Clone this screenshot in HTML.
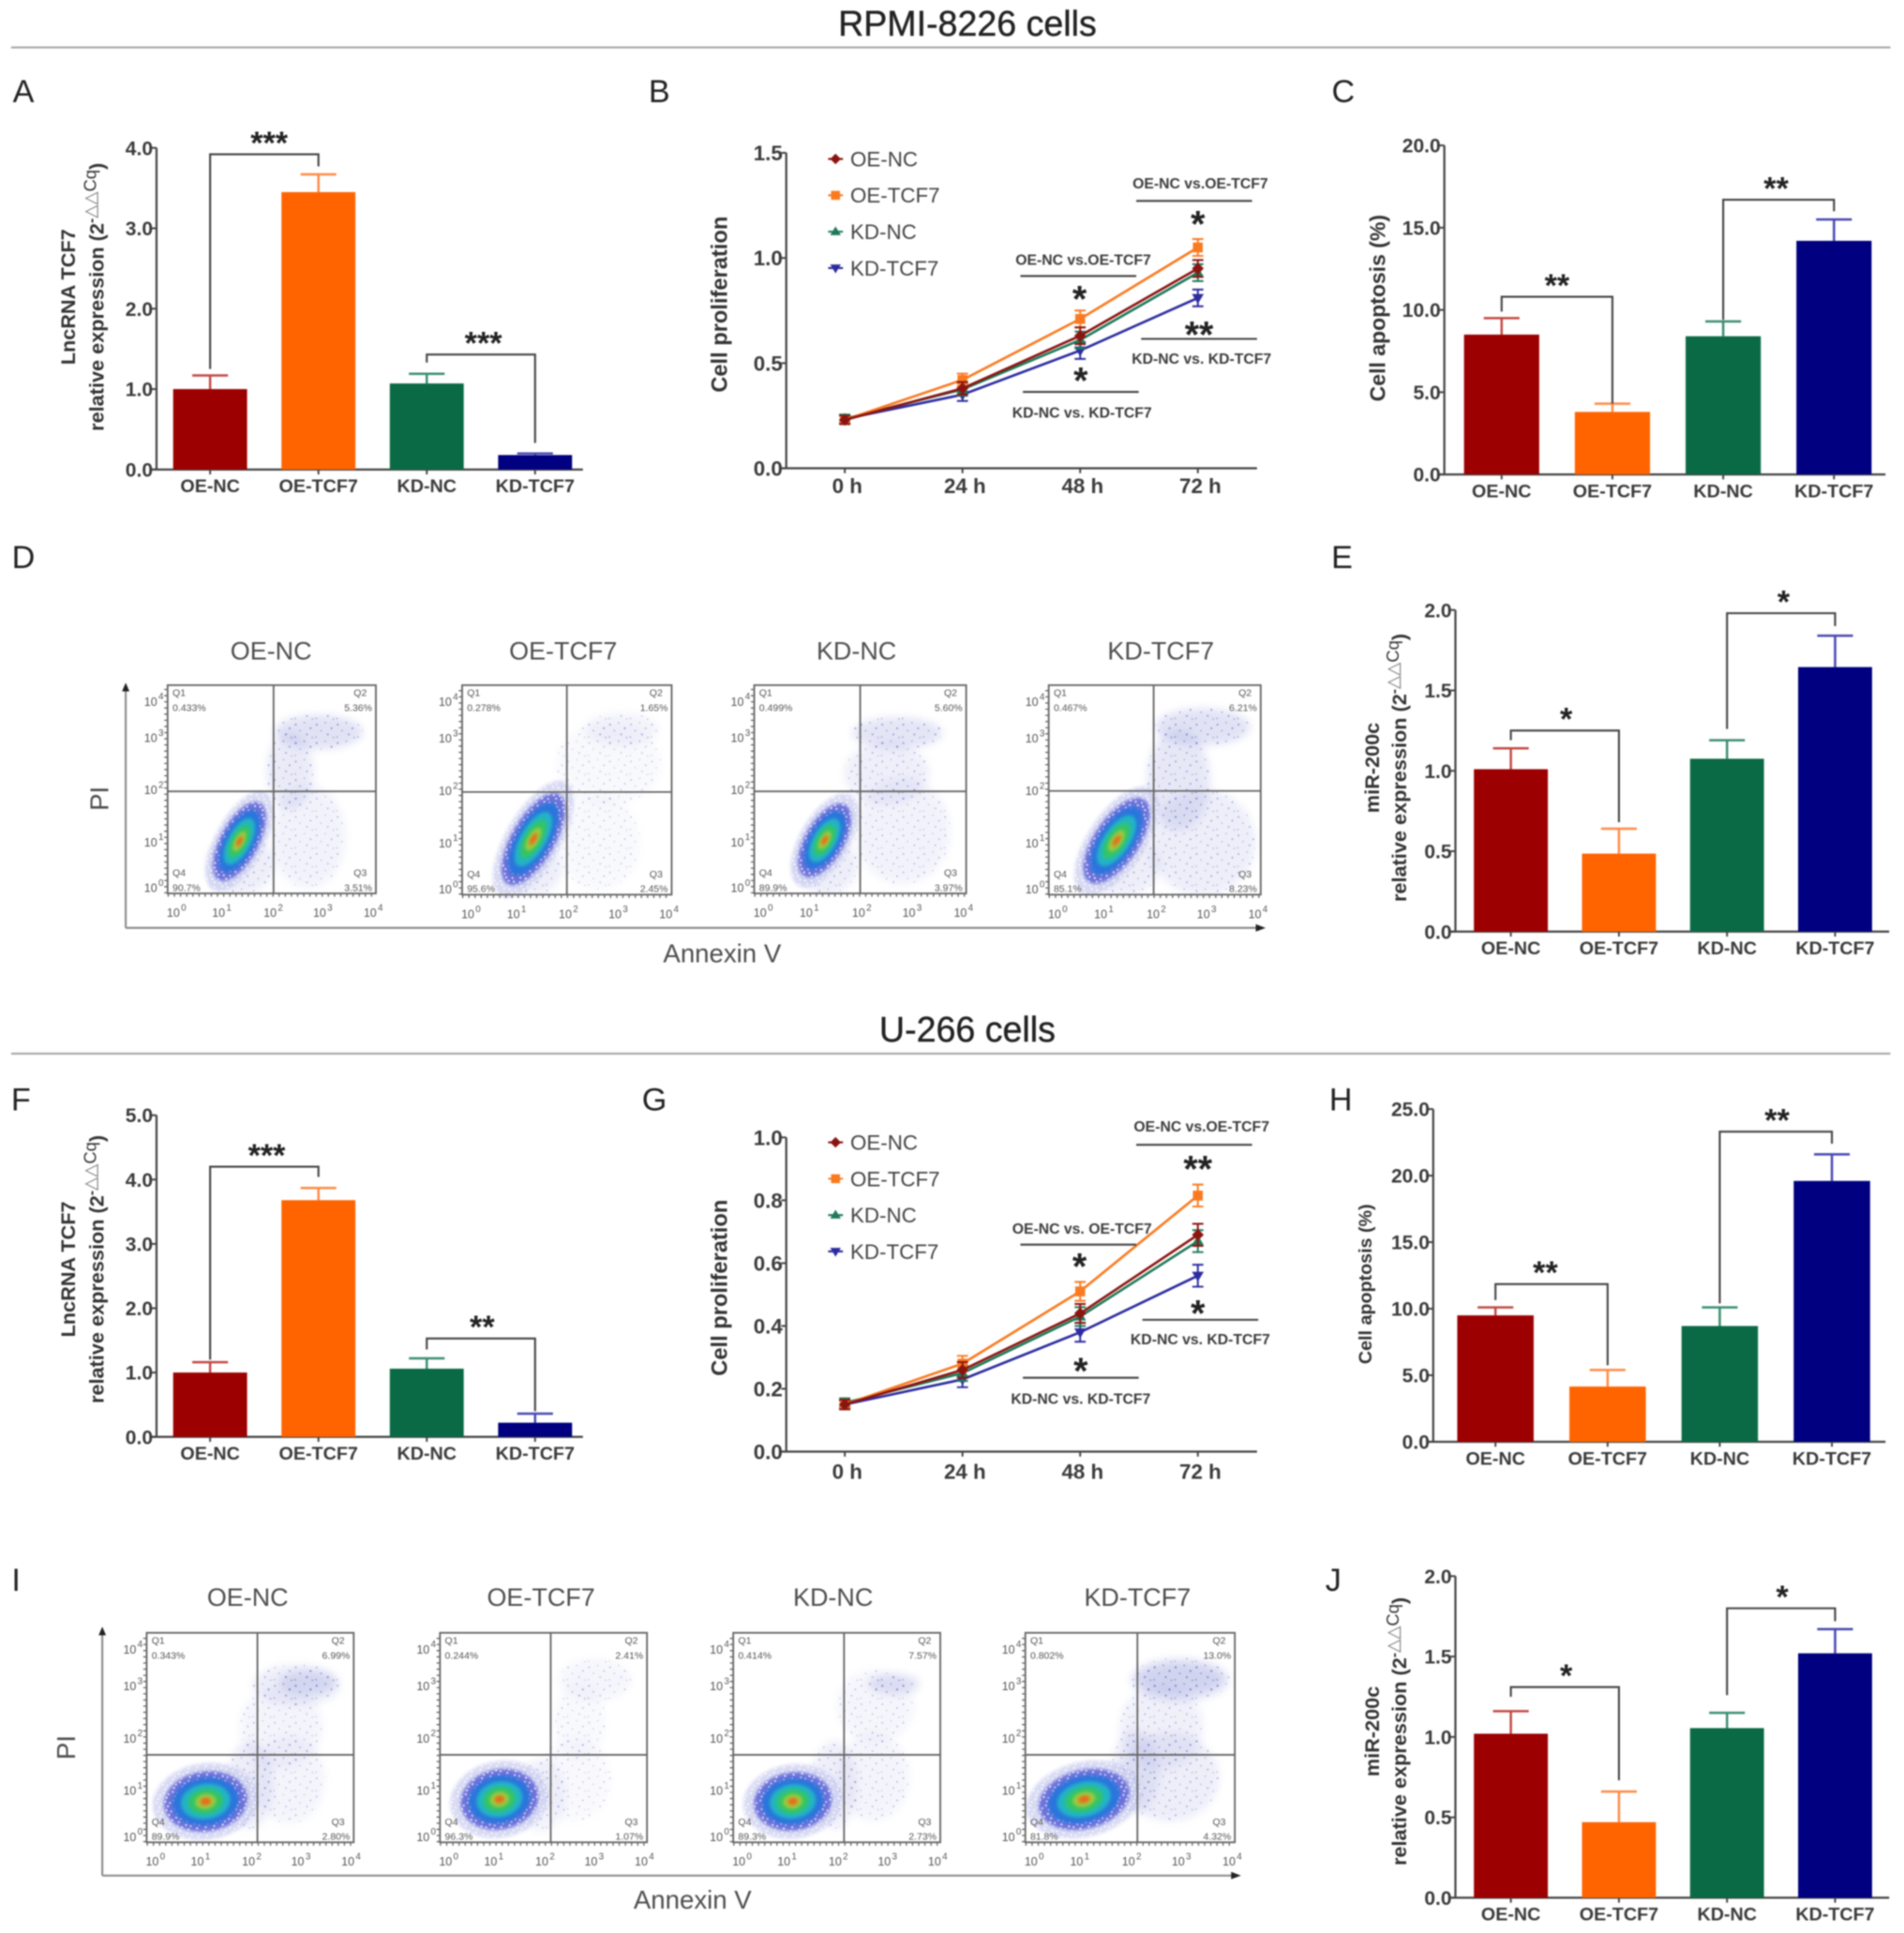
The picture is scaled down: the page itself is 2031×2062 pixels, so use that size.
<!DOCTYPE html>
<html lang="en">
<head>
<meta charset="utf-8">
<title>lncRNA TCF7 and miR-200c in RPMI-8226 and U-266 cells</title>
<style>
html,body{margin:0;padding:0;background:#fff;}
#figure{display:block;width:2031px;height:2062px;filter:blur(0.8px);font-family:"Liberation Sans",Arial,sans-serif;}
.section{font-size:28.6px;fill:#222;stroke:#222;stroke-width:.3px;text-anchor:middle;}
.letter{font-size:26px;fill:#222;text-anchor:middle;}
.cmp{font-size:12px;font-weight:bold;fill:#3c3c3c;text-anchor:middle;}
.star{font-size:30px;font-weight:bold;fill:#222;text-anchor:middle;}
.flowtitle{font-size:20.5px;fill:#4d4d4d;text-anchor:middle;}
.flowaxis{font-size:21px;fill:#4d4d4d;text-anchor:middle;}
</style>
</head>
<body>
<svg id="figure" xmlns="http://www.w3.org/2000/svg" width="2031" height="2062" viewBox="0 0 1545 1568.6">
  <defs>
    <pattern id="sparse-dots" patternUnits="userSpaceOnUse" width="17" height="15">
      <circle cx="2" cy="3" r=".75" fill="#6a6fc4"/>
      <circle cx="9" cy="1.5" r=".65" fill="#8a8cc8"/>
      <circle cx="14" cy="6" r=".75" fill="#6a6fc4"/>
      <circle cx="5.5" cy="8" r=".65" fill="#8a8cc8"/>
      <circle cx="11" cy="11" r=".75" fill="#777bc6"/>
      <circle cx="1.5" cy="13" r=".65" fill="#8a8cc8"/>
      <circle cx="15.5" cy="13.5" r=".65" fill="#8a8cc8"/>
    </pattern>
    <pattern id="white-speckle" patternUnits="userSpaceOnUse" width="7" height="7">
      <circle cx="1.5" cy="1.5" r=".9" fill="#fff"/>
      <circle cx="5" cy="3" r=".8" fill="#fff"/>
      <circle cx="3" cy="5.5" r=".9" fill="#fff"/>
    </pattern>
    <filter id="soft" x="-20%" y="-20%" width="140%" height="140%"><feGaussianBlur stdDeviation="1.3"/></filter>
    <filter id="softer" x="-40%" y="-40%" width="180%" height="180%"><feGaussianBlur stdDeviation="3.2"/></filter>
  </defs>
  <rect width="1545" height="1569" fill="#fff"/>

  <text class="section" x="785" y="29">RPMI-8226 cells</text>
  <line x1="9" y1="38.5" x2="1534" y2="38.5" stroke="#a8a8a8" stroke-width="1.6"/>
  <text class="section" x="785" y="845">U-266 cells</text>
  <line x1="9" y1="855" x2="1534" y2="855" stroke="#a8a8a8" stroke-width="1.6"/>

  <text class="letter" x="19" y="83">A</text>
  <text class="letter" x="535" y="83">B</text>
  <text class="letter" x="1090" y="83">C</text>
  <text class="letter" x="19" y="461">D</text>
  <text class="letter" x="1089" y="461">E</text>
  <text class="letter" x="17" y="901">F</text>
  <text class="letter" x="531" y="901">G</text>
  <text class="letter" x="1088" y="901">H</text>
  <text class="letter" x="13" y="1291">I</text>
  <text class="letter" x="1082" y="1291">J</text>

  <g id="charts"></g>

  <g>
    <text class="cmp" x="974" y="153">OE-NC vs.OE-TCF7</text>
    <line x1="922" y1="163" x2="1016" y2="163" stroke="#444" stroke-width="1.6"/>
    <text class="star" x="972" y="192">*</text>
    <text class="cmp" x="879" y="215">OE-NC vs.OE-TCF7</text>
    <line x1="828" y1="224" x2="922" y2="224" stroke="#444" stroke-width="1.6"/>
    <text class="star" x="876" y="253">*</text>
    <text class="star" x="877" y="319">*</text>
    <line x1="830" y1="318" x2="924" y2="318" stroke="#444" stroke-width="1.6"/>
    <text class="cmp" x="878" y="339">KD-NC vs. KD-TCF7</text>
    <text class="star" x="973" y="282">**</text>
    <line x1="926" y1="275" x2="1020" y2="275" stroke="#444" stroke-width="1.6"/>
    <text class="cmp" x="975" y="295">KD-NC vs. KD-TCF7</text>
  </g>
  <g>
    <text class="cmp" x="975" y="918">OE-NC vs.OE-TCF7</text>
    <line x1="922" y1="929" x2="1016" y2="929" stroke="#444" stroke-width="1.6"/>
    <text class="star" x="972" y="959">**</text>
    <text class="cmp" x="878" y="1001">OE-NC vs. OE-TCF7</text>
    <line x1="828" y1="1010" x2="922" y2="1010" stroke="#444" stroke-width="1.6"/>
    <text class="star" x="876" y="1038">*</text>
    <text class="star" x="877" y="1123">*</text>
    <line x1="830" y1="1118" x2="924" y2="1118" stroke="#444" stroke-width="1.6"/>
    <text class="cmp" x="877" y="1139">KD-NC vs. KD-TCF7</text>
    <text class="star" x="972" y="1076">*</text>
    <line x1="927" y1="1071" x2="1021" y2="1071" stroke="#444" stroke-width="1.6"/>
    <text class="cmp" x="974" y="1091">KD-NC vs. KD-TCF7</text>
  </g>

  <g>
    <path d="M102 753V560" stroke="#8a8a8a" stroke-width="1.6" fill="none"/>
    <path d="M102 554l-3 7h6z" fill="#222"/>
    <path d="M102 753H1020" stroke="#8a8a8a" stroke-width="1.6" fill="none"/>
    <path d="M1027 753l-8-3v6z" fill="#222"/>
    <text class="flowaxis" transform="rotate(-90 88 648)" x="88" y="648">PI</text>
    <text class="flowaxis" x="586" y="781">Annexin V</text>
    <text class="flowtitle" x="220" y="535">OE-NC</text>
    <text class="flowtitle" x="457" y="535">OE-TCF7</text>
    <text class="flowtitle" x="695" y="535">KD-NC</text>
    <text class="flowtitle" x="942" y="535">KD-TCF7</text>
  </g>
  <g>
    <path d="M83 1522V1326" stroke="#8a8a8a" stroke-width="1.6" fill="none"/>
    <path d="M83 1320l-3 7h6z" fill="#222"/>
    <path d="M83 1522H1000" stroke="#8a8a8a" stroke-width="1.6" fill="none"/>
    <path d="M1007 1522l-8-3v6z" fill="#222"/>
    <text class="flowaxis" transform="rotate(-90 61 1418)" x="61" y="1418">PI</text>
    <text class="flowaxis" x="562" y="1549">Annexin V</text>
    <text class="flowtitle" x="201" y="1303">OE-NC</text>
    <text class="flowtitle" x="439" y="1303">OE-TCF7</text>
    <text class="flowtitle" x="676" y="1303">KD-NC</text>
    <text class="flowtitle" x="923" y="1303">KD-TCF7</text>
  </g>
</svg>

<script>
// ---------- shared categories ----------
const categories = ['OE-NC', 'OE-TCF7', 'KD-NC', 'KD-TCF7'];
const timepoints = ['0 h', '24 h', '48 h', '72 h'];

// ---------- panel A ----------
const panelATicks = ['0.0', '1.0', '2.0', '3.0', '4.0'];
const panelAValues = [1.0, 3.45, 1.07, 0.18];
const panelAErrorTops = [1.17, 3.67, 1.19, 0.2];
const panelABrackets = [[0, 1, 1.25, 3.92, 3.77, '***', 3], [2, 3, 1.33, 1.43, 0.33, '***', 1]];
// ---------- panel C ----------
const panelCTicks = ['0.0', '5.0', '10.0', '15.0', '20.0'];
const panelCValues = [8.5, 3.8, 8.4, 14.2];
const panelCErrorTops = [9.5, 4.3, 9.3, 15.5];
const panelCBrackets = [[0, 1, 9.9, 10.8, 4.3, '**', -1], [2, 3, 9.4, 16.7, 16.0, '**', -3]];
// ---------- panel E ----------
const panelETicks = ['0.0', '0.5', '1.0', '1.5', '2.0'];
const panelEValues = [1.01, 0.485, 1.075, 1.645];
const panelEErrorTops = [1.14, 0.64, 1.19, 1.84];
const panelEBrackets = [[0, 1, 1.19, 1.25, 0.68, '*', 0], [2, 3, 1.26, 1.98, 1.9, '*', 1]];
// ---------- panel F ----------
const panelFTicks = ['0.0', '1.0', '2.0', '3.0', '4.0', '5.0'];
const panelFValues = [1.0, 3.68, 1.06, 0.22];
const panelFErrorTops = [1.16, 3.87, 1.22, 0.36];
const panelFBrackets = [[0, 1, 1.2, 4.2, 4.04, '***', 1], [2, 3, 1.36, 1.53, 0.4, '**', 0]];
// ---------- panel H ----------
const panelHTicks = ['0.0', '5.0', '10.0', '15.0', '20.0', '25.0'];
const panelHValues = [9.5, 4.15, 8.7, 19.6];
const panelHErrorTops = [10.1, 5.4, 10.1, 21.6];
const panelHBrackets = [[0, 1, 10.65, 11.85, 5.75, '**', -6], [2, 3, 10.4, 23.3, 22.4, '**', 0]];
// ---------- panel J ----------
const panelJTicks = ['0.0', '0.5', '1.0', '1.5', '2.0'];
const panelJValues = [1.02, 0.47, 1.055, 1.52];
const panelJErrorTops = [1.16, 0.66, 1.15, 1.67];
const panelJBrackets = [[0, 1, 1.25, 1.31, 0.73, '*', 0], [2, 3, 1.26, 1.8, 1.72, '*', 0]];

// ---------- panel B (line) ----------
const panelBTicks = ['0.0', '0.5', '1.0', '1.5'];
const panelBOeNc = [0.23, 0.38, 0.63, 0.95];
const panelBOeTcf7 = [0.23, 0.42, 0.71, 1.05];
const panelBKdNc = [0.235, 0.375, 0.61, 0.93];
const panelBKdTcf7 = [0.235, 0.35, 0.56, 0.81];
const panelBErrors = [0.02, 0.03, 0.04, 0.04];
// ---------- panel G (line) ----------
const panelGTicks = ['0.0', '0.2', '0.4', '0.6', '0.8', '1.0'];
const panelGOeNc = [0.15, 0.26, 0.44, 0.69];
const panelGOeTcf7 = [0.15, 0.28, 0.51, 0.815];
const panelGKdNc = [0.155, 0.25, 0.43, 0.67];
const panelGKdTcf7 = [0.15, 0.23, 0.38, 0.56];
const panelGErrors = [0.015, 0.025, 0.03, 0.035];

// ---------- flow plots: quadrant percentages (Q1, Q2, Q3, Q4) ----------
const flowQuadrantsD1 = ['0.433%', '5.36%', '3.51%', '90.7%'];
const flowQuadrantsD2 = ['0.278%', '1.65%', '2.45%', '95.6%'];
const flowQuadrantsD3 = ['0.499%', '5.60%', '3.97%', '89.9%'];
const flowQuadrantsD4 = ['0.467%', '6.21%', '8.23%', '85.1%'];
const flowQuadrantsI1 = ['0.343%', '6.99%', '2.80%', '89.9%'];
const flowQuadrantsI2 = ['0.244%', '2.41%', '1.07%', '96.3%'];
const flowQuadrantsI3 = ['0.414%', '7.57%', '2.73%', '89.3%'];
const flowQuadrantsI4 = ['0.802%', '13.0%', '4.32%', '81.8%'];
// main population, in log10 units: centre x, centre y, long radius, short radius, tilt deg
const flowCoreD1 = [1.38, 1.0, 0.95, 0.42, 62];
const flowCoreD2 = [1.36, 1.06, 1.12, 0.47, 60];
const flowCoreD3 = [1.33, 1.02, 0.88, 0.42, 60];
const flowCoreD4 = [1.28, 1.03, 1.06, 0.48, 56];
const flowCoreI1 = [1.14, 0.78, 0.92, 0.66, 8];
const flowCoreI2 = [1.15, 0.82, 0.86, 0.66, 12];
const flowCoreI3 = [1.15, 0.78, 0.86, 0.64, 8];
const flowCoreI4 = [1.12, 0.82, 1.0, 0.64, 14];
// sparse populations in log10 units: centre x, centre y, radius x, radius y, density
const flowCloudsD1 = [[2.9, 3.1, 0.85, 0.33, 1], [2.35, 2.35, 0.45, 0.75, 0.7], [2.7, 1.1, 0.72, 1.0, 0.4], [1.4, 0.55, 0.65, 0.55, 0.6]];
const flowCloudsD2 = [[3.05, 3.15, 0.7, 0.32, 0.4], [2.8, 2.5, 1.0, 0.8, 0.2], [2.6, 1.0, 0.8, 0.9, 0.2], [1.35, 0.5, 0.55, 0.5, 0.6]];
const flowCloudsD3 = [[2.7, 3.08, 0.85, 0.3, 0.9], [2.5, 2.3, 0.8, 0.6, 0.55], [2.8, 1.2, 0.9, 1.0, 0.4], [1.35, 0.55, 0.6, 0.55, 0.6]];
const flowCloudsD4 = [[2.9, 3.2, 0.9, 0.35, 1], [2.45, 2.2, 0.6, 0.95, 0.8], [2.9, 1.0, 1.0, 1.0, 0.6], [1.4, 0.55, 0.7, 0.55, 0.6]];
const flowCloudsI1 = [[3.1, 3.05, 0.55, 0.24, 1], [2.9, 3.0, 0.85, 0.4, 0.6], [2.6, 2.2, 0.8, 0.8, 0.35], [2.75, 1.2, 0.7, 0.85, 0.35], [2.0, 1.1, 0.45, 0.85, 0.6]];
const flowCloudsI2 = [[3.0, 3.1, 0.7, 0.4, 0.3], [2.7, 2.3, 0.5, 0.75, 0.2], [2.6, 1.2, 0.7, 0.8, 0.18], [1.95, 0.9, 0.5, 0.7, 0.4]];
const flowCloudsI3 = [[3.1, 3.02, 0.5, 0.2, 1], [2.75, 2.6, 0.75, 0.7, 0.3], [2.7, 1.25, 0.7, 0.85, 0.35], [1.95, 1.1, 0.45, 0.85, 0.55]];
const flowCloudsI4 = [[2.95, 3.12, 0.85, 0.32, 1], [2.95, 3.1, 0.95, 0.42, 0.7], [2.6, 2.2, 0.8, 0.8, 0.5], [2.75, 1.25, 0.95, 0.85, 0.6], [2.1, 1.35, 0.45, 0.8, 0.65]];
// decade positions of the printed tick labels on the plot scale
const flowTickDecades = ['0', '1', '2', '3', '4'];

// ---------- layout (not data) ----------
const seriesColors = ['#9c0000', '#ff6400', '#0a6a45', '#000080'];
const capColors = ['#c24a45', '#ff8a45', '#3a8f70', '#4848b4'];
const lineColors = ['#8c1410', '#f97a20', '#1f7a5a', '#2c2ca0'];
const markerKinds = ['diamond', 'square', 'triangle', 'nabla'];
const coreRings = [[1.12, '#c5c8ee', 0.65], [0.88, '#6268d8', 0.9], [0.7, '#2c74dc', 1], [0.52, '#20b4c4', 1], [0.37, '#30c468', 1], [0.22, '#a0c83a', 1], [0.11, '#ea6a1e', 1]];
const xLabelOffsets = [0.17, 1.04, 2.03, 2.98, 3.95];
const yLabelOffsets = [0.12, 1.0, 2.0, 3.0, 3.7];

const NS = 'http://www.w3.org/2000/svg';
const root = document.getElementById('charts');
function mk(tag, attrs, parent, text) {
  const n = document.createElementNS(NS, tag);
  for (const k in attrs) n.setAttribute(k, attrs[k]);
  if (text !== undefined) n.textContent = text;
  parent.appendChild(n);
  return n;
}
function drawAxes(g, L, ticks, tickFont) {
  const yScale = v => L.y0 - (v / L.max) * (L.y0 - L.yTop);
  const yAxis = mk('line', { x1: L.axisX, y1: L.y0, x2: L.axisX, y2: L.yTop, stroke: '#444', 'stroke-width': 1.7 }, g);
  
  
  const xAxis = mk('line', { x1: L.axisX - 4, y1: L.y0, x2: L.xEnd, y2: L.y0, stroke: '#444', 'stroke-width': 1.7 }, g);
  
  
  ticks.forEach((t, i) => {
    const v = L.max * i / (ticks.length - 1);
    const tick = mk('line', { x1: L.axisX - 4, y1: yScale(v), x2: L.axisX, y2: yScale(v), stroke: '#444', 'stroke-width': 1.5 }, g);
    
    
    const lab = mk('text', { x: L.axisX - 3, y: yScale(v) + tickFont * 0.36, 'text-anchor': 'end', 'font-size': tickFont, 'font-weight': 'bold', fill: '#3a3a3a' }, g, t);
    
    
  });
  return yScale;
}
function drawYTitle(g, L) {
  L.titles.forEach((line, i) => {
    const x = L.titleX[i];
    const t = mk('text', { x: x, y: L.titleY, transform: 'rotate(-90 ' + x + ' ' + L.titleY + ')', 'text-anchor': 'middle', 'font-size': L.titleFont, 'font-weight': 'bold', fill: '#333' }, g);
    
    
    if (line === 'EXPR') {
      mk('tspan', {}, t, 'relative expression (2');
      mk('tspan', { dy: -6, 'font-size': 12 }, t, '-');
      mk('tspan', { 'font-size': 14, 'font-weight': 'normal', fill: '#777', 'font-family': '"DejaVu Sans",sans-serif' }, t, '\u25B3\u25B3');
      mk('tspan', { 'font-size': 14, 'font-weight': 'normal' }, t, 'Cq');
      mk('tspan', { dy: 6 }, t, ')');
    } else {
      t.textContent = line;
    }
  });
}
function barPanel(name, L, ticks, values, tops, brackets) {
  const g = mk('g', {}, root);
  
  
  const yScale = drawAxes(g, L, ticks, 16);
  const xScale = i => L.c0 + i * L.step;
  drawYTitle(g, L);
  categories.forEach((c, i) => {
    const cx = xScale(i);
    const stem = mk('line', { x1: cx, x2: cx, y1: yScale(values[i]), y2: yScale(tops[i]), stroke: capColors[i], 'stroke-width': 1.9 }, g);
    
    
    const cap = mk('line', { x1: cx - 14.5, x2: cx + 14.5, y1: yScale(tops[i]), y2: yScale(tops[i]), stroke: capColors[i], 'stroke-width': 1.9 }, g);
    
    
    const bar = mk('rect', { x: cx - L.barW / 2, width: L.barW, y: yScale(values[i]), height: L.y0 - yScale(values[i]), fill: seriesColors[i] }, g);
    
    
    const tick = mk('line', { x1: cx, x2: cx, y1: L.y0, y2: L.y0 + 4, stroke: '#444', 'stroke-width': 1.5 }, g);
    
    
    const lab = mk('text', { x: cx, y: L.y0 + 18.5, 'text-anchor': 'middle', 'font-size': 15, 'font-weight': 'bold', fill: '#3a3a3a' }, g, c);
    
    
  });
  brackets.forEach(b => {
    const x1 = xScale(b[0]), x2 = xScale(b[1]);
    const path = mk('path', { d: 'M' + x1 + ' ' + yScale(b[2]) + 'V' + yScale(b[3]) + 'H' + x2 + 'V' + yScale(b[4]), fill: 'none', stroke: '#444', 'stroke-width': 1.6 }, g);
    
    
    const star = mk('text', { x: (x1 + x2) / 2 + 1 + b[6], y: yScale(b[3]) - 0.5, 'text-anchor': 'middle', 'font-size': 26, 'font-weight': 'bold', fill: '#222' }, g, b[5]);
    
    
  });
}
function marker(g, kind, x, y, r, color) {
  let n;
  if (kind === 'square') {
    n = mk('rect', { x: x - r, y: y - r, width: 2 * r, height: 2 * r, fill: color }, g);
  } else if (kind === 'diamond') {
    n = mk('path', { d: 'M' + x + ' ' + (y - r * 1.2) + 'L' + (x + r * 1.2) + ' ' + y + 'L' + x + ' ' + (y + r * 1.2) + 'L' + (x - r * 1.2) + ' ' + y + 'Z', fill: color }, g);
  } else if (kind === 'triangle') {
    n = mk('path', { d: 'M' + x + ' ' + (y - r * 1.2) + 'L' + (x + r * 1.2) + ' ' + (y + r * .8) + 'L' + (x - r * 1.2) + ' ' + (y + r * .8) + 'Z', fill: color }, g);
  } else {
    n = mk('path', { d: 'M' + x + ' ' + (y + r * 1.2) + 'L' + (x + r * 1.2) + ' ' + (y - r * .8) + 'L' + (x - r * 1.2) + ' ' + (y - r * .8) + 'Z', fill: color }, g);
  }
  
  
}
function linePanel(name, L, ticks, seriesList, errors) {
  const g = mk('g', {}, root);
  
  
  const yScale = drawAxes(g, L, ticks, 17);
  const xScale = i => L.c0 + i * L.step;
  drawYTitle(g, L);
  timepoints.forEach((t, i) => {
    const tick = mk('line', { x1: xScale(i), x2: xScale(i), y1: L.y0, y2: L.y0 + 4, stroke: '#444', 'stroke-width': 1.5 }, g);
    
    
    const lab = mk('text', { x: xScale(i) + 2, y: L.y0 + L.labelGap, 'text-anchor': 'middle', 'font-size': 17, 'font-weight': 'bold', fill: '#3a3a3a' }, g, t);
    
    
  });
  [3, 2, 1, 0].forEach(s => {
    const vals = seriesList[s];
    const line = mk('polyline', { points: vals.map((v, i) => xScale(i) + ',' + yScale(v)).join(' '), fill: 'none', stroke: lineColors[s], 'stroke-width': 2 }, g);
    
    
    vals.forEach((v, i) => {
      const x = xScale(i), e = errors[i];
      const err = mk('path', { d: 'M' + x + ' ' + yScale(v - e) + 'V' + yScale(v + e) + 'M' + (x - 4.5) + ' ' + yScale(v - e) + 'h9M' + (x - 4.5) + ' ' + yScale(v + e) + 'h9', fill: 'none', stroke: lineColors[s], 'stroke-width': 1.5 }, g);
      
      
      marker(g, markerKinds[s], x, yScale(v), 4, lineColors[s]);
    });
  });
  categories.forEach((c, i) => {
    const ly = L.legendY + i * 29.5;
    const entry = mk('g', {}, g);
    
    
    const dash = mk('line', { x1: 672, x2: 684, y1: ly, y2: ly, stroke: lineColors[i], 'stroke-width': 1.6 }, entry);
    
    
    marker(entry, markerKinds[i], 678, ly, 3.6, lineColors[i]);
    const txt = mk('text', { x: 690, y: ly + 6, 'font-size': 17, fill: '#444' }, entry, c);
    
    
  });
}
function flowPlot(name, B, quadrants, core, clouds) {
  const g = mk('g', {}, root);
  
  
  const X = v => B.x0 + (v / 4) * (B.x1 - B.x0);
  const Y = v => B.y0 - (v / 4) * (B.y0 - B.y1);
  const decade = (B.x1 - B.x0) / 4;
  const density = mk('g', {}, g);
  
  
  clouds.forEach(c => {
    const haze = mk('ellipse', { cx: X(c[0]), cy: Y(c[1]), rx: c[2] * decade, ry: c[3] * decade, fill: '#8f95d8', opacity: 0.26 * c[4], filter: 'url(#softer)' }, density);
    
    
    const dots = mk('ellipse', { cx: X(c[0]), cy: Y(c[1]), rx: c[2] * decade, ry: c[3] * decade, fill: 'url(#sparse-dots)', opacity: Math.min(1, 0.25 + 0.5 * c[4]) }, density);
    
    
  });
  coreRings.forEach((r, i) => {
    const rot = 'rotate(' + (-core[4]) + ' ' + X(core[0]) + ' ' + Y(core[1]) + ')';
    const e = mk('ellipse', { cx: X(core[0]), cy: Y(core[1]), rx: core[2] * r[0] * decade, ry: core[3] * r[0] * decade, fill: r[1], opacity: r[2], filter: 'url(#soft)', transform: rot }, density);
    
    
    if (i < 2) {
      const sp = mk('ellipse', { cx: X(core[0]), cy: Y(core[1]), rx: core[2] * r[0] * decade, ry: core[3] * r[0] * decade, fill: 'url(#white-speckle)', opacity: 0.75, transform: rot }, density);
      
      
    }
  });
  const frame = mk('rect', { x: B.x0, y: B.y1, width: B.x1 - B.x0, height: B.y0 - B.y1, fill: 'none', stroke: '#666', 'stroke-width': 1.4 }, g);
  
  
  const gateV = mk('line', { x1: X(B.gateX), x2: X(B.gateX), y1: B.y1, y2: B.y0, stroke: '#666', 'stroke-width': 1.4 }, g);
  
  
  const gateH = mk('line', { x1: B.x0, x2: B.x1, y1: Y(B.gate), y2: Y(B.gate), stroke: '#666', 'stroke-width': 1.4 }, g);
  
  
  const minorX = mk('line', { x1: B.x0, x2: B.x1, y1: B.y0 + 1.5, y2: B.y0 + 1.5, stroke: '#666', 'stroke-width': 2.5, 'stroke-dasharray': '1 4' }, g);
  
  
  const minorY = mk('line', { x1: B.x0 - 1.5, x2: B.x0 - 1.5, y1: B.y0, y2: B.y1, stroke: '#666', 'stroke-width': 2.5, 'stroke-dasharray': '1 4' }, g);
  
  
  flowTickDecades.forEach((d, i) => {
    const tx = mk('text', { x: X(xLabelOffsets[i]), y: B.y0 + 19, 'text-anchor': 'middle', 'font-size': 9.5, fill: '#555' }, g);
    
    
    mk('tspan', {}, tx, '10');
    mk('tspan', { dy: -5, dx: 1, 'font-size': 7.5 }, tx, d);
    const ty = mk('text', { x: B.x0 - 19, y: Y(yLabelOffsets[i]) + 4, 'font-size': 9.5, fill: '#555' }, g);
    
    
    mk('tspan', {}, ty, '10');
    mk('tspan', { dy: -5, dx: 1, 'font-size': 7.5 }, ty, d);
  });
  const qs = [['Q1', B.x0 + 4, B.y1 + 9], ['Q2', B.x1 - 18, B.y1 + 9], ['Q3', B.x1 - 18, B.y0 - 14], ['Q4', B.x0 + 4, B.y0 - 14]];
  qs.forEach((q, i) => {
    const id = mk('text', { x: q[1], y: q[2], 'font-size': 8, fill: '#555' }, g, q[0]);
    
    
    const isRight = i === 1 || i === 2;
    const pct = mk('text', { x: isRight ? B.x1 - 3 : B.x0 + 4, y: q[2] + 12, 'font-size': 8, fill: '#555', 'text-anchor': isRight ? 'end' : 'start' }, g, quadrants[i]);
    
    
  });
}

const exprA = ['LncRNA TCF7', 'EXPR'];
const exprB = ['miR-200c', 'EXPR'];
barPanel('panel-a-lncrna-bars', { axisX: 127, y0: 381, yTop: 120, max: 4, xEnd: 473, c0: 170.5, step: 87.9, barW: 60, titles: exprA, titleX: [61, 84], titleY: 241, titleFont: 16.5 }, panelATicks, panelAValues, panelAErrorTops, panelABrackets);
barPanel('panel-c-apoptosis-bars', { axisX: 1172, y0: 385, yTop: 118, max: 20, xEnd: 1530, c0: 1218.5, step: 89.9, barW: 61, titles: ['Cell apoptosis (%)'], titleX: [1124], titleY: 250, titleFont: 17.5 }, panelCTicks, panelCValues, panelCErrorTops, panelCBrackets);
barPanel('panel-e-mir200c-bars', { axisX: 1181, y0: 756, yTop: 495, max: 2, xEnd: 1533, c0: 1226, step: 87.7, barW: 60, titles: exprB, titleX: [1119, 1141], titleY: 623, titleFont: 16.5 }, panelETicks, panelEValues, panelEErrorTops, panelEBrackets);
barPanel('panel-f-lncrna-bars', { axisX: 127, y0: 1166, yTop: 905, max: 5, xEnd: 473, c0: 170.5, step: 87.9, barW: 60, titles: exprA, titleX: [61, 84], titleY: 1030, titleFont: 16.5 }, panelFTicks, panelFValues, panelFErrorTops, panelFBrackets);
barPanel('panel-h-apoptosis-bars', { axisX: 1163, y0: 1170, yTop: 900, max: 25, xEnd: 1530, c0: 1213.5, step: 91, barW: 62, titles: ['Cell apoptosis (%)'], titleX: [1113], titleY: 1042, titleFont: 15 }, panelHTicks, panelHValues, panelHErrorTops, panelHBrackets);
barPanel('panel-j-mir200c-bars', { axisX: 1181, y0: 1540, yTop: 1279, max: 2, xEnd: 1533, c0: 1226, step: 87.7, barW: 60, titles: exprB, titleX: [1119, 1141], titleY: 1405, titleFont: 16.5 }, panelJTicks, panelJValues, panelJErrorTops, panelJBrackets);

linePanel('panel-b-proliferation-lines', { axisX: 638, y0: 380, yTop: 124, max: 1.5, xEnd: 1020, c0: 685.5, step: 95.5, legendY: 129, labelGap: 20, titles: ['Cell proliferation'], titleX: [590], titleY: 247, titleFont: 18 }, panelBTicks, [panelBOeNc, panelBOeTcf7, panelBKdNc, panelBKdTcf7], panelBErrors);
linePanel('panel-g-proliferation-lines', { axisX: 638, y0: 1178, yTop: 923, max: 1.0, xEnd: 1020, c0: 685.5, step: 95.5, legendY: 927, labelGap: 22, titles: ['Cell proliferation'], titleX: [590], titleY: 1045, titleFont: 18 }, panelGTicks, [panelGOeNc, panelGOeTcf7, panelGKdNc, panelGKdTcf7], panelGErrors);

flowPlot('flow-d-oe-nc', { x0: 136, x1: 305, y0: 725, y1: 556, gate: 1.96, gateX: 2.035 }, flowQuadrantsD1, flowCoreD1, flowCloudsD1);
flowPlot('flow-d-oe-tcf7', { x0: 375, x1: 545, y0: 726, y1: 556, gate: 1.96, gateX: 2.0 }, flowQuadrantsD2, flowCoreD2, flowCloudsD2);
flowPlot('flow-d-kd-nc', { x0: 612, x1: 784, y0: 725, y1: 556, gate: 1.96, gateX: 2.0 }, flowQuadrantsD3, flowCoreD3, flowCloudsD3);
flowPlot('flow-d-kd-tcf7', { x0: 851, x1: 1023, y0: 726, y1: 556, gate: 1.98, gateX: 1.98 }, flowQuadrantsD4, flowCoreD4, flowCloudsD4);
flowPlot('flow-i-oe-nc', { x0: 119, x1: 287, y0: 1495, y1: 1325, gate: 1.67, gateX: 2.14 }, flowQuadrantsI1, flowCoreI1, flowCloudsI1);
flowPlot('flow-i-oe-tcf7', { x0: 357, x1: 525, y0: 1495, y1: 1325, gate: 1.67, gateX: 2.14 }, flowQuadrantsI2, flowCoreI2, flowCloudsI2);
flowPlot('flow-i-kd-nc', { x0: 595, x1: 763, y0: 1495, y1: 1325, gate: 1.67, gateX: 2.14 }, flowQuadrantsI3, flowCoreI3, flowCloudsI3);
flowPlot('flow-i-kd-tcf7', { x0: 832, x1: 1002, y0: 1495, y1: 1325, gate: 1.67, gateX: 2.14 }, flowQuadrantsI4, flowCoreI4, flowCloudsI4);
</script>
</body>
</html>
